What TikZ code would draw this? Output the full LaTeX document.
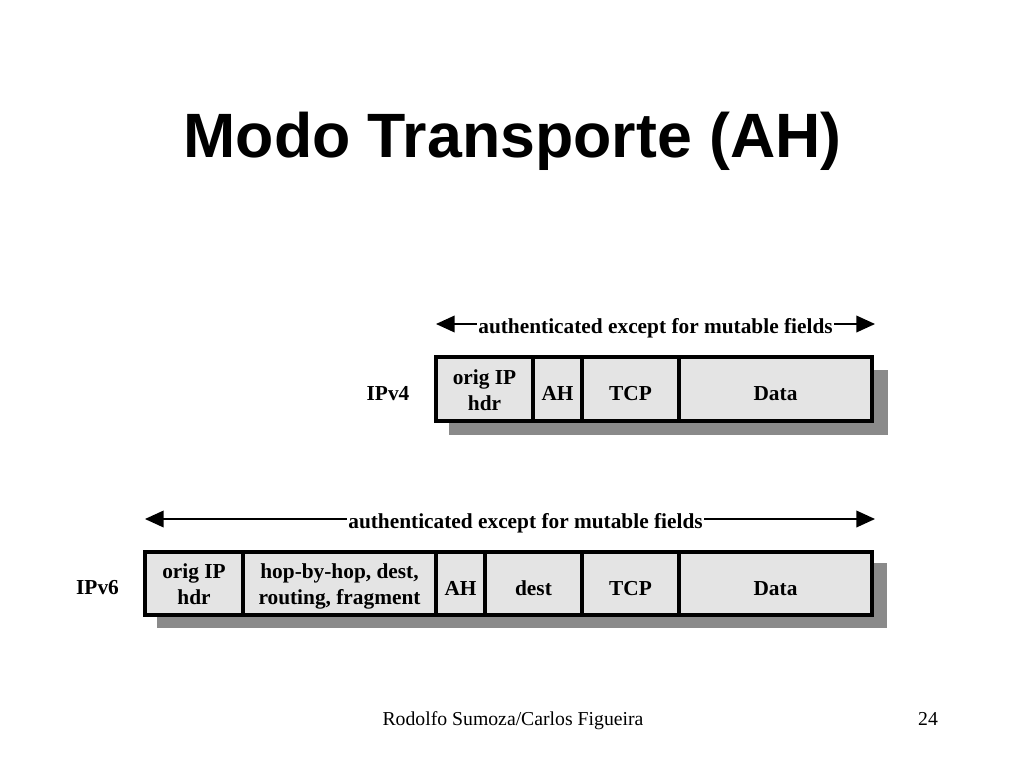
\documentclass[tikz,border=0pt]{standalone}
\usepackage{fontspec}
\setmainfont{Liberation Serif}
\newfontfamily\titlefont{Liberation Sans}
\usetikzlibrary{arrows.meta}
\definecolor{cellfill}{HTML}{E4E4E4}
\definecolor{shadowgray}{HTML}{8A8A8A}
\begin{document}
\begin{tikzpicture}[x=0.75pt,y=-0.75pt,
  cellbox/.style={draw=black, line width=3pt, fill=cellfill, inner sep=0pt,
    align=center, font=\bfseries\fontsize{16}{19.5}\selectfont},
  oneline/.style={text height=17.3pt, text depth=0pt},
  twoline/.style={text height=32pt, text depth=0pt},
  shadowbox/.style={fill=shadowgray},
  spanlabel/.style={inner xsep=1pt, inner ysep=0pt, anchor=base, font=\bfseries\fontsize{16}{19.5}\selectfont},
  rowlabel/.style={anchor=base, font=\bfseries\fontsize{16}{19.5}\selectfont},
  spanarrow/.style={line width=1.2pt, -{Triangle[length=14pt,width=12.5pt]}},
]
\useasboundingbox (0,0) rectangle (1024,768);

% title
\node[anchor=base, font=\titlefont\bfseries\fontsize{47}{50}\selectfont] (title) at (512.5,157) {Modo Transporte (AH)};

% ---------- IPv4 ----------
\fill[shadowbox] (449,370) rectangle (888,435);
\node[cellbox, twoline, minimum width=97*0.75pt, minimum height=64*0.75pt] (v4hdr) at (484.5,389) {orig IP\\hdr};
\node[cellbox, oneline, minimum width=49*0.75pt, minimum height=64*0.75pt] (v4ah) at (557.5,389) {AH};
\node[cellbox, oneline, minimum width=97*0.75pt, minimum height=64*0.75pt] (v4tcp) at (630.5,389) {TCP};
\node[cellbox, oneline, minimum width=193*0.75pt, minimum height=64*0.75pt] (v4data) at (775.5,389) {Data};
\node[rowlabel] (v4lbl) at (388,400) {IPv4};

\node[spanlabel] (v4span) at (655.5,333) {authenticated except for mutable fields};
\coordinate (v4l) at (436,324);
\coordinate (v4r) at (875,324);
\draw[spanarrow] (v4span.west |- v4l) -- (v4l);
\draw[spanarrow] (v4span.east |- v4r) -- (v4r);

% ---------- IPv6 ----------
\fill[shadowbox] (157,563) rectangle (887,628);
\node[cellbox, twoline, minimum width=98*0.75pt, minimum height=63*0.75pt] (v6hdr) at (194,583.5) {orig IP\\hdr};
\node[cellbox, twoline, minimum width=193*0.75pt, minimum height=63*0.75pt] (v6ext) at (339.5,583.5) {hop-by-hop, dest,\\routing, fragment};
\node[cellbox, oneline, minimum width=49*0.75pt, minimum height=63*0.75pt] (v6ah) at (460.5,583.5) {AH};
\node[cellbox, oneline, minimum width=97*0.75pt, minimum height=63*0.75pt] (v6dest) at (533.5,583.5) {dest};
\node[cellbox, oneline, minimum width=97*0.75pt, minimum height=63*0.75pt] (v6tcp) at (630.5,583.5) {TCP};
\node[cellbox, oneline, minimum width=193*0.75pt, minimum height=63*0.75pt] (v6data) at (775.5,583.5) {Data};
\node[rowlabel] (v6lbl) at (97.5,594) {IPv6};

\node[spanlabel] (v6span) at (525.5,528) {authenticated except for mutable fields};
\coordinate (v6l) at (145,519);
\coordinate (v6r) at (875,519);
\draw[spanarrow] (v6span.west |- v6l) -- (v6l);
\draw[spanarrow] (v6span.east |- v6r) -- (v6r);

% footer
\node[anchor=base, font=\fontsize{14.8}{16}\selectfont] (footer) at (513,725) {Rodolfo Sumoza/Carlos Figueira};
\node[anchor=base, font=\fontsize{14.8}{16}\selectfont] (pagenum) at (928,725) {24};
\end{tikzpicture}
\end{document}
